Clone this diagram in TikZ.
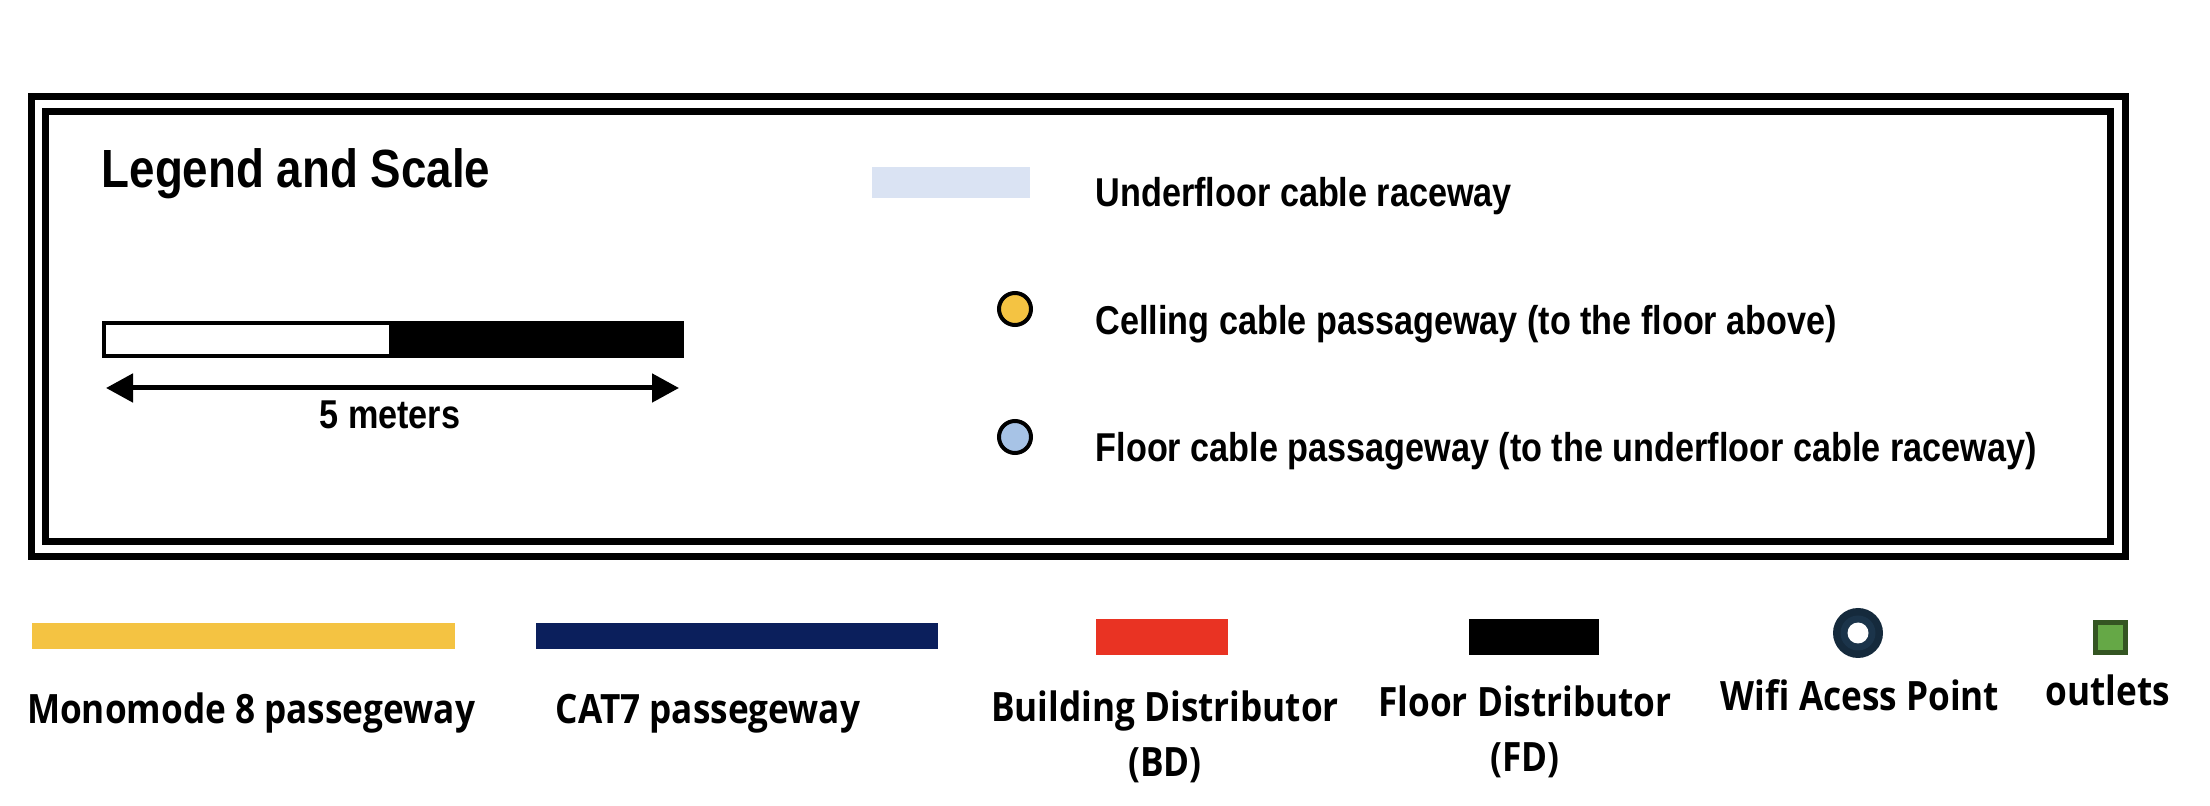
\documentclass[tikz,border=0pt]{standalone}
\usepackage{fontspec}
\usepackage{tikz}
\usetikzlibrary{arrows.meta, positioning}
\newfontfamily\legendfont[FakeStretch=0.85]{Liberation Sans}
\newfontfamily\keyfont[FakeStretch=0.87]{Open Sans}
\definecolor{raceblue}{RGB}{218,227,243}
\definecolor{ceilyellow}{RGB}{244,195,66}
\definecolor{floorblue}{RGB}{167,195,230}
\definecolor{catnavy}{RGB}{11,31,92}
\definecolor{bdred}{RGB}{233,51,35}
\definecolor{wifinavy}{RGB}{21,42,60}
\definecolor{wifiring}{RGB}{27,52,74}
\definecolor{outletgreen}{RGB}{101,168,70}
\definecolor{outletdark}{RGB}{52,85,34}
\tikzset{
  legtxt/.style={inner sep=0pt, anchor=base west, font=\legendfont\bfseries\fontsize{11.45}{13}\selectfont},
  keytxt/.style={inner sep=0pt, anchor=base, font=\keyfont\bfseries\fontsize{11.5}{13}\selectfont},
  keybar/.style={inner sep=0pt, outer sep=0pt, minimum height=0.26cm},
  keybox/.style={inner sep=0pt, outer sep=0pt, minimum height=0.36cm},
  passdot/.style={circle, draw=black, line width=0.04cm, minimum size=0.32cm, inner sep=0pt},
  frameline/.style={line width=0.07cm}
}

\begin{document}
\begin{tikzpicture}
	\useasboundingbox (0,0) rectangle (22.10,-8.06);
	\draw[frameline] (0.315,-0.97) rectangle (21.255,-5.565);
	\draw[frameline] (0.455,-1.115) rectangle (21.10,-5.415);

	\draw (1.01,-1.88) node[legtxt, font=\legendfont\bfseries\fontsize{15.3}{17}\selectfont] (title) {Legend and Scale};
	\draw[line width=0.04cm, fill=white] (1.04,-3.23) rectangle (6.82,-3.56);
	\fill (3.89,-3.23) rectangle (6.82,-3.56);
	\coordinate (sl) at (1.06,-3.88);
	\coordinate (sr) at (6.79,-3.88);
	\draw[line width=0.05cm, {Triangle[length=0.27cm,width=0.28cm]}-{Triangle[length=0.27cm,width=0.28cm]}] (sl) -- (sr);
	\draw (3.90,-4.29) node[legtxt, anchor=base] (scaletxt) {5 meters};

	\draw (9.51,-1.825) node[inner sep=0pt, fill=raceblue, minimum width=1.58cm, minimum height=0.31cm] (racekey) {}
		(10.15,-3.09) node[passdot, fill=ceilyellow] (ceildot) {}
		(10.15,-4.37) node[passdot, fill=floorblue] (floordot) {}
		(10.95,-2.07) node[legtxt] (racetxt) {Underfloor cable raceway}
		(10.95,-3.35) node[legtxt] (ceiltxt) {Celling cable passageway (to the floor above)}
		(10.95,-4.62) node[legtxt] (floortxt) {Floor cable passageway (to the underfloor cable raceway)};

	\draw (2.435,-6.36) node[keybar, fill=ceilyellow, minimum width=4.23cm] (monobar) {}
		(7.37,-6.36) node[keybar, fill=catnavy, minimum width=4.02cm] (catbar) {}
		(11.62,-6.37) node[keybox, fill=bdred, minimum width=1.32cm] (bdbox) {}
		(15.34,-6.37) node[keybox, fill=black, minimum width=1.30cm] (fdbox) {}
		(18.58,-6.33) node[circle, fill=wifinavy, minimum size=0.50cm, inner sep=0pt] (wifi) {}
		(21.105,-6.375) node[draw=outletdark, fill=outletgreen, line width=0.05cm, minimum size=0.295cm, inner sep=0pt] (outlet) {};
	\fill[wifiring] (wifi) circle (0.175);
	\fill[white] (wifi) circle (0.105);

	\draw (2.51,-7.24) node[keytxt] (monolbl) {Monomode 8 passegeway}
		(7.08,-7.24) node[keytxt] (catlbl) {CAT7 passegeway}
		(11.65,-7.22) node[keytxt] (bdlbl) {Building Distributor}
		(15.25,-7.17) node[keytxt] (fdlbl) {Floor Distributor}
		(18.60,-7.11) node[keytxt] (wifilbl) {Wifi Acess Point}
		(21.08,-7.06) node[keytxt] (outletlbl) {outlets};
	\node[keytxt] (bdsub) at ([yshift=-0.55cm]bdlbl.base) {(BD)};
	\node[keytxt] (fdsub) at ([yshift=-0.55cm]fdlbl.base) {(FD)};
\end{tikzpicture}
\end{document}
